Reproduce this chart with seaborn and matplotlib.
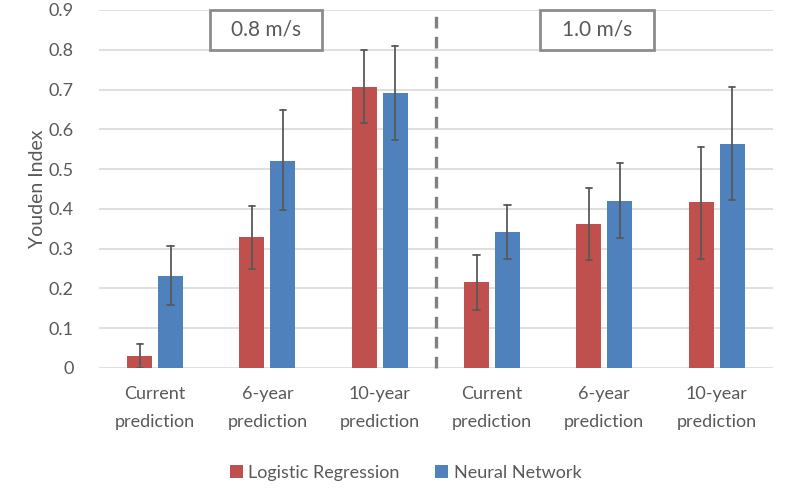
import numpy as np
import pandas as pd
import seaborn as sns
import matplotlib.pyplot as plt
from matplotlib.patches import Rectangle

# values
speeds = ["0.8 m/s", "1.0 m/s"]
horizons = ["Current\nprediction", "6-year\nprediction", "10-year\nprediction"]
series = ["Logistic Regression", "Neural Network"]

lr_value = [0.030, 0.330, 0.707, 0.215, 0.362, 0.417]
lr_low = [0.000, 0.248, 0.617, 0.147, 0.272, 0.275]
lr_high = [0.060, 0.408, 0.800, 0.285, 0.453, 0.556]

nn_value = [0.231, 0.521, 0.692, 0.342, 0.419, 0.563]
nn_low = [0.159, 0.396, 0.573, 0.275, 0.326, 0.422]
nn_high = [0.306, 0.649, 0.810, 0.409, 0.515, 0.707]

yticks = [0, 0.1, 0.2, 0.3, 0.4, 0.5, 0.6, 0.7, 0.8, 0.9]


def getData():
    # three rows per bar (low, value, high) -> median is the bar, min/max the error bar
    data = {"group": [], "type": [], "value": []}
    groups = [s + "|" + h for s in speeds for h in horizons]
    for name, vals, lows, highs in [(series[0], lr_value, lr_low, lr_high),
                                    (series[1], nn_value, nn_low, nn_high)]:
        for g, v, lo, hi in zip(groups, vals, lows, highs):
            for x in (lo, v, hi):
                data["group"].append(g)
                data["type"].append(name)
                data["value"].append(x)
    return pd.DataFrame(data), groups


sns.set_theme(style='white', context='notebook')
plt.rcParams['font.family'] = ['Lato', 'DejaVu Sans']
grey = '#595959'

df, groups = getData()
fig = plt.figure(figsize=(7.95, 5), dpi=100)
ax = fig.add_subplot(111)
palette = {series[0]: '#C0504D', series[1]: '#4F81BD'}

barplot = sns.barplot(data=df, x="group", y="value", hue="type", order=groups,
                      hue_order=series, palette=palette, saturation=1,
                      estimator="median", errorbar=lambda v: (np.min(v), np.max(v)),
                      width=0.55, gap=0.19, capsize=0.11, linewidth=0,
                      err_kws={'color': grey, 'linewidth': 1.3, 'zorder': 4},
                      ax=ax, zorder=3)

ax.set_xlim(-0.5, 5.5)
ax.set_ylim(0, 0.9)
ax.set_yticks(yticks)
ax.set_yticklabels([f"{y:g}" for y in yticks])
ax.set_xticks(range(len(groups)))
ax.set_xticklabels(horizons * 2, linespacing=1.9)
for y in yticks:
    ax.axhline(y=y, color='#D9D9D9', linewidth=1.2, zorder=0)
for spine in ax.spines.values():
    spine.set_visible(False)
ax.tick_params(axis='both', length=0, labelsize=13, labelcolor=grey)
ax.tick_params(axis='y', pad=18)
ax.tick_params(axis='x', pad=13)
ax.set_xlabel('')
ax.set_ylabel('Youden Index', fontsize=14, color=grey, labelpad=2)

# separator between the two speeds
ax.axvline(2.5, color='#808080', linestyle=(0, (3.5, 2.5)), linewidth=2.4, zorder=4,
           clip_on=False)

# speed boxes
for (x0, x1), label in zip([(0.49, 1.49), (3.43, 4.44)], speeds):
    ax.add_patch(Rectangle((x0, 0.80), x1 - x0, 0.1, facecolor='white',
                           edgecolor='#8C8C8C', linewidth=2, zorder=5, clip_on=False))
    ax.text((x0 + x1) / 2, 0.851, label, ha='center', va='center', fontsize=15,
            color=grey, zorder=6)

sns.move_legend(ax, "upper center", bbox_to_anchor=(0.455, -0.225), ncol=2, title=None,
                frameon=False, fontsize=13, handlelength=0.7, handleheight=0.7,
                handletextpad=0.3, columnspacing=2.0)
for t in ax.get_legend().get_texts():
    t.set_color(grey)

plt.subplots_adjust(left=0.1245, bottom=0.264, right=0.972, top=0.98)
fig.savefig("out.png", dpi=100)
